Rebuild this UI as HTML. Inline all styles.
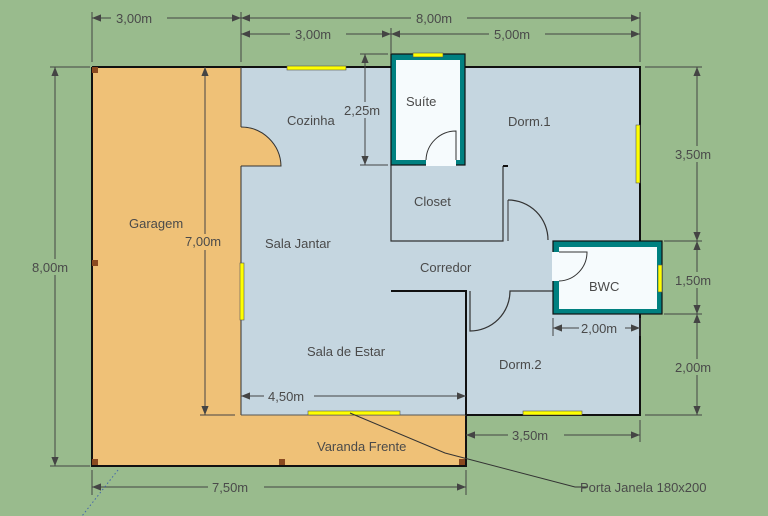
<!DOCTYPE html>
<html><head><meta charset="utf-8"><style>html,body{margin:0;padding:0;background:#99bb8d}svg{display:block}text{font-family:"Liberation Sans",sans-serif;font-size:13px;fill:#4a4a4a}</style></head>
<body>
<svg width="768" height="516" viewBox="0 0 768 516" xmlns="http://www.w3.org/2000/svg">
<defs>
<marker id="a" viewBox="0 0 10 10" refX="10" refY="5" markerWidth="9" markerHeight="9" orient="auto-start-reverse" markerUnits="userSpaceOnUse"><path d="M0,1 L10,5 L0,9 z" fill="#444"/></marker>
</defs>
<rect width="768" height="516" fill="#99bb8d"/>
<path d="M92,67 H241 V127 A40,40 0 0 1 281,166 H241 V415 H466 V466 H92 Z" fill="#efc177" stroke="none"/>
<path d="M241,67 H640 V415 H241 V166 H281 A40,40 0 0 0 241,127 Z" fill="#c5d6e0"/>
<g stroke="#111" stroke-width="2" fill="none">
<path d="M92,67 H640 V241"/><path d="M640,314 V415 H466"/>
<path d="M92,67 V466 H466 V415"/>
</g>
<line x1="241" y1="67" x2="241" y2="127" stroke="#333" stroke-width="1"/>
<line x1="241" y1="166" x2="241" y2="415" stroke="#333" stroke-width="1"/>
<path d="M241,127 A40,40 0 0 1 281,166 H241" fill="none" stroke="#333"/>
<line x1="241" y1="415" x2="466" y2="415" stroke="#555"/>
<g fill="#8a4a20"><rect x="92" y="67" width="6" height="6"/><rect x="92" y="260" width="6" height="6"/><rect x="92" y="459" width="6" height="6"/><rect x="279" y="459" width="6" height="6"/><rect x="459" y="459" width="6" height="6"/></g>
<g stroke="#333" fill="none" stroke-width="1.2">
<path d="M391,165 V241 H503 V166"/>
<path d="M503,166 H508" stroke-width="2" stroke="#111"/>
<path d="M508,200 A40,40 0 0 1 548,240"/>
<path d="M508,200 V241" stroke-width="1"/>
<path d="M391,291 H466 V415" stroke="#111" stroke-width="2"/>
<path d="M470,291 V331 A40,40 0 0 0 510,291 H553"/>
</g>
<rect x="391" y="54" width="74" height="111" fill="#008080" stroke="#111" stroke-width="1.2"/>
<rect x="396" y="60" width="64" height="100" fill="#f6fbfd"/>
<rect x="426" y="158" width="30" height="8" fill="#f6fbfd"/>
<path d="M456,160 V131 A30,30 0 0 0 426,160" fill="none" stroke="#333"/>
<rect x="413" y="53" width="30" height="4" fill="#ffff00" stroke="#555" stroke-width=".6"/>
<rect x="553" y="241" width="109" height="73" fill="#008080" stroke="#111" stroke-width="1.2"/>
<rect x="559" y="247" width="98" height="62" fill="#f6fbfd"/>
<rect x="552" y="252" width="8" height="29" fill="#f6fbfd"/>
<path d="M559,252 H587 A29,29 0 0 1 559,281" fill="none" stroke="#333"/>
<g fill="#ffff00" stroke="#555" stroke-width=".6">
<rect x="287" y="66" width="59" height="4"/>
<rect x="636" y="125" width="4" height="58"/>
<rect x="240" y="263" width="4" height="57"/>
<rect x="658" y="265" width="4" height="27"/>
<rect x="308" y="411" width="92" height="4"/>
<rect x="523" y="411" width="59" height="4"/>
</g>
<text x="287" y="125">Cozinha</text>
<text x="406" y="106">Suíte</text>
<text x="508" y="126">Dorm.1</text>
<text x="414" y="206">Closet</text>
<text x="129" y="228">Garagem</text>
<text x="265" y="248">Sala Jantar</text>
<text x="420" y="272">Corredor</text>
<text x="589" y="291">BWC</text>
<text x="307" y="356">Sala de Estar</text>
<text x="499" y="369">Dorm.2</text>
<text x="317" y="451">Varanda Frente</text>
<g stroke="#444" stroke-width="1" fill="none">
<path d="M92,12 V62 M241,12 V62 M640,12 V62 M391,28 V54"/>
<line x1="92" y1="18" x2="241" y2="18" marker-start="url(#a)" marker-end="url(#a)"/>
<line x1="241" y1="18" x2="640" y2="18" marker-start="url(#a)" marker-end="url(#a)"/>
<line x1="241" y1="34" x2="391" y2="34" marker-start="url(#a)" marker-end="url(#a)"/>
<line x1="391" y1="34" x2="640" y2="34" marker-start="url(#a)" marker-end="url(#a)"/>
<path d="M50,67 H90 M50,466 H90"/>
<line x1="55" y1="67" x2="55" y2="466" marker-start="url(#a)" marker-end="url(#a)"/>
<path d="M200,415 H235"/>
<line x1="205" y1="67" x2="205" y2="415" marker-start="url(#a)" marker-end="url(#a)"/>
<path d="M360,54 H388 M360,165 H388"/>
<line x1="365" y1="54" x2="365" y2="165" marker-start="url(#a)" marker-end="url(#a)"/>
<path d="M645,67 H702 M664,241 H702 M664,314 H702 M645,415 H702"/>
<line x1="697" y1="67" x2="697" y2="241" marker-start="url(#a)" marker-end="url(#a)"/>
<line x1="697" y1="241" x2="697" y2="314" marker-start="url(#a)" marker-end="url(#a)"/>
<line x1="697" y1="314" x2="697" y2="415" marker-start="url(#a)" marker-end="url(#a)"/>
<path d="M553,318 V336 M640,318 V336"/>
<line x1="553" y1="328" x2="640" y2="328" marker-start="url(#a)" marker-end="url(#a)"/>
<line x1="241" y1="396" x2="466" y2="396" marker-start="url(#a)" marker-end="url(#a)"/>
<path d="M640,420 V442"/>
<line x1="466" y1="435" x2="640" y2="435" marker-start="url(#a)" marker-end="url(#a)"/>
<path d="M92,470 V495 M466,470 V495"/>
<line x1="92" y1="487" x2="466" y2="487" marker-start="url(#a)" marker-end="url(#a)"/>
<path d="M350,413 L445,453 L575,487 H588" stroke="#333"/>
</g>
<path d="M118,470 L82,516" stroke="#4466aa" stroke-dasharray="1.5,2.5" stroke-width="1"/>
<g>
<rect x="111" y="10" width="56" height="16" fill="#99bb8d"/><text x="116" y="23">3,00m</text>
<rect x="411" y="10" width="56" height="16" fill="#99bb8d"/><text x="416" y="23">8,00m</text>
<rect x="290" y="26" width="56" height="16" fill="#99bb8d"/><text x="295" y="39">3,00m</text>
<rect x="489" y="26" width="56" height="16" fill="#99bb8d"/><text x="494" y="39">5,00m</text>
<rect x="30" y="259" width="50" height="16" fill="#99bb8d"/><text x="32" y="272">8,00m</text>
<rect x="183" y="234" width="46" height="16" fill="#efc177"/><text x="185" y="246">7,00m</text>
<rect x="343" y="102" width="44" height="16" fill="#c5d6e0"/><text x="344" y="115">2,25m</text>
<rect x="674" y="146" width="46" height="16" fill="#99bb8d"/><text x="675" y="159">3,50m</text>
<rect x="674" y="272" width="46" height="16" fill="#99bb8d"/><text x="675" y="285">1,50m</text>
<rect x="674" y="359" width="46" height="16" fill="#99bb8d"/><text x="675" y="372">2,00m</text>
<rect x="579" y="320" width="46" height="16" fill="#c5d6e0"/><text x="581" y="333">2,00m</text>
<rect x="264" y="388" width="50" height="16" fill="#c5d6e0"/><text x="268" y="401">4,50m</text>
<rect x="508" y="427" width="56" height="16" fill="#99bb8d"/><text x="512" y="440">3,50m</text>
<rect x="208" y="479" width="56" height="16" fill="#99bb8d"/><text x="212" y="492">7,50m</text>
<text x="580" y="492">Porta Janela 180x200</text>
</g>
</svg>
</body></html>
